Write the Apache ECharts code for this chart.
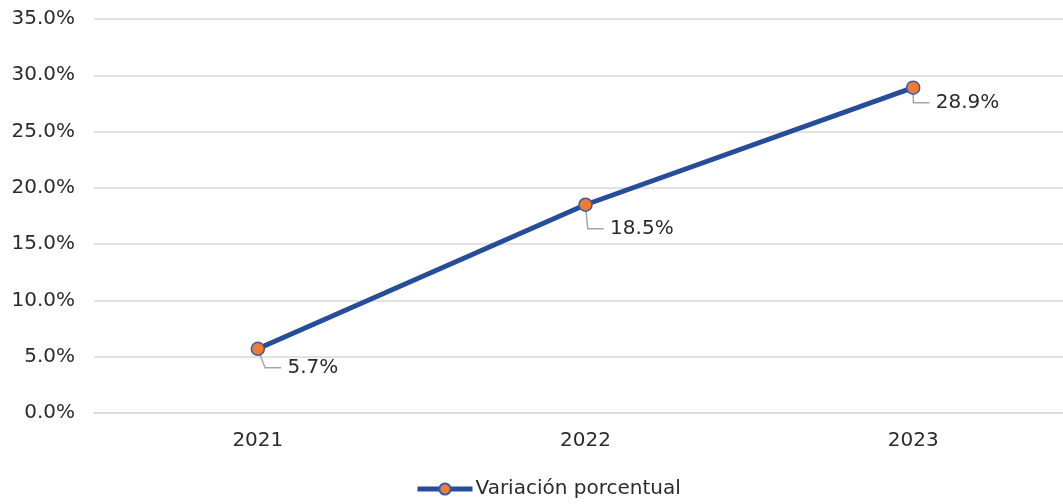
<!DOCTYPE html>
<html>
<head>
<meta charset="utf-8">
<script src="https://cdn.jsdelivr.net/npm/echarts@6/dist/echarts.min.js"></script>
<style>
html,body{margin:0;padding:0;background:#fff;overflow:hidden;}
#chart{width:1077px;height:504px;}
</style>
</head>
<body>
<div id="chart"></div>
<script>
var categories = ['2021', '2022', '2023'];
var seriesName = 'Variación porcentual';
var values = [5.7, 18.5, 28.9];
var yTicks = [0, 5, 10, 15, 20, 25, 30, 35];

var chart = echarts.init(document.getElementById('chart'));
var font = 'DejaVu Sans';
var txt = '#2b2b2b';
var labelShift = [[11, 19], [6, 24], [4, 15]];
chart.setOption({
  animation: false,
  grid: { left: 94, right: 0, top: 19, bottom: 91, containLabel: false },
  legend: {
    bottom: 0, left: 410,
    itemWidth: 55, itemHeight: 14, itemGap: 4,
    textStyle: { fontFamily: font, fontSize: 20, color: txt, padding: [0,0,0,-2] },
    lineStyle: { width: 5 },
    data: [seriesName]
  },
  xAxis: {
    type: 'category', data: categories, boundaryGap: true,
    axisLine: { show: true, lineStyle: { color: '#d9d9d9', width: 1.5 } },
    axisTick: { show: false },
    axisLabel: { fontFamily: font, fontSize: 20, color: txt, margin: 18 }
  },
  yAxis: {
    type: 'value', min: yTicks[0], max: yTicks[yTicks.length-1], interval: 5,
    axisLine: { show: false }, axisTick: { show: false },
    splitLine: { lineStyle: { color: '#d9d9d9', width: 1.5 } },
    axisLabel: { fontFamily: font, fontSize: 20, color: txt, margin: 19,
      formatter: function (v) { return v.toFixed(1) + '%'; } }
  },
  series: [{
    name: seriesName, type: 'line', data: values,
    lineStyle: { color: '#264d99', width: 5 },
    itemStyle: { color: '#ed7d31', borderColor: '#3c5aa6', borderWidth: 1.5 },
    symbol: 'circle', symbolSize: 13,
    label: {
      show: true, position: 'right', distance: 5,
      fontFamily: font, fontSize: 20, color: txt,
      formatter: function (p) { return ' ' + p.value.toFixed(1) + '%'; }
    },
    labelLayout: function (p) {
      var s = labelShift[p.dataIndex] || [10, 17];
      return { dx: s[0], dy: s[1] };
    },
    labelLine: { show: true, length2: 16, lineStyle: { color: '#a6a6a6', width: 1.5 } }
  }]
});
</script>
</body>
</html>
